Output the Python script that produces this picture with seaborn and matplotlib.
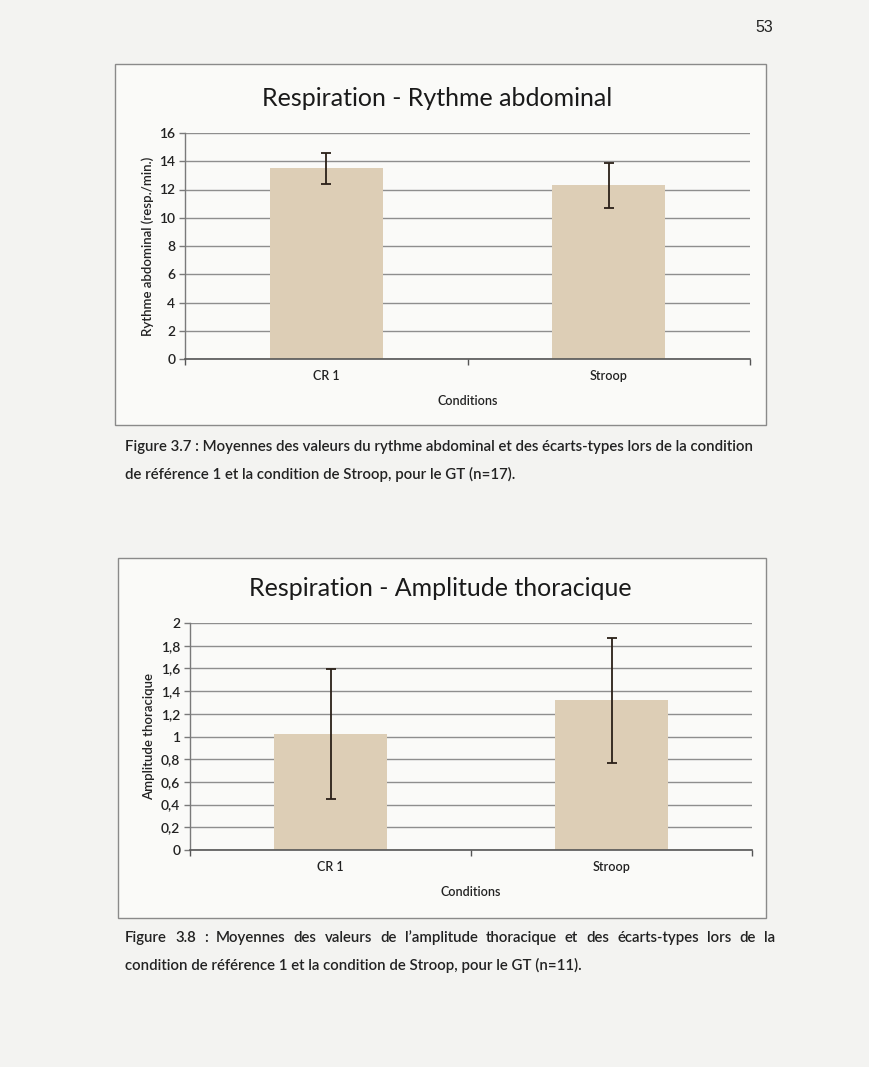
import numpy as np
import pandas as pd
import matplotlib
matplotlib.use("Agg")
import matplotlib.pyplot as plt
import seaborn as sns
from matplotlib.patches import Rectangle
from matplotlib.ticker import FuncFormatter, FixedLocator

# --- Data ---
conditions = ["CR 1", "Stroop"]
rythme_mean = [13.5, 12.3]
rythme_sd = [1.1, 1.6]
ampl_mean = [1.02, 1.32]
ampl_sd = [0.575, 0.55]
rythme_ticks = [0, 2, 4, 6, 8, 10, 12, 14, 16]
ampl_ticks = [0, 0.2, 0.4, 0.6, 0.8, 1.0, 1.2, 1.4, 1.6, 1.8, 2.0]

# --- Styling ---
sns.set_theme(style="white")
plt.rcParams['font.family'] = ['Lato', 'DejaVu Sans']
page_bg = "#F3F3F1"
box_bg = "#FAFAF8"
bar_color = "#DDCEB6"
grid_color = "#8E8E8E"
text_color = "#222222"

W, H = 870, 1067
fig = plt.figure(figsize=(W / 100, H / 100), dpi=100, facecolor=page_bg)


def px_rect(left, top, right, bottom):
    return [left / W, (H - bottom) / H, (right - left) / W, (bottom - top) / H]


def comma_fmt(v, pos):
    return f"{v:g}".replace(".", ",")


def draw_chart(ax, means, sds, ticks, title, ylabel, title_xy):
    df = pd.DataFrame({"Condition": conditions, "Value": means})
    sns.barplot(data=df, x="Condition", y="Value", color=bar_color,
                saturation=1, width=0.4, linewidth=0, ax=ax, zorder=2)
    ax.errorbar(x=[0, 1], y=means, yerr=sds, fmt="none", ecolor="#2a2018",
                elinewidth=1.3, capsize=3.5, capthick=1.3, zorder=3)
    ax.set_facecolor("none")
    ax.set_xlim(-0.5, 1.5)
    ax.set_ylim(ticks[0], ticks[-1])
    ax.yaxis.set_major_locator(FixedLocator(ticks))
    ax.yaxis.set_major_formatter(FuncFormatter(comma_fmt))
    ax.yaxis.grid(True, color=grid_color, linewidth=1.0, zorder=0)
    ax.set_axisbelow(True)
    for s in ["top", "right"]:
        ax.spines[s].set_visible(False)
    ax.spines["left"].set_color("#7a7a7a")
    ax.spines["bottom"].set_color("#555555")
    ax.spines["left"].set_linewidth(1.0)
    ax.spines["bottom"].set_linewidth(1.2)
    ax.tick_params(axis="y", which="major", length=4, width=1, color="#7a7a7a",
                   labelsize=10, labelcolor=text_color, pad=3, left=True)
    ax.tick_params(axis="x", which="major", length=0, labelsize=9,
                   labelcolor=text_color, pad=8)
    ax.set_xticks([-0.5, 0.5, 1.5], minor=True)
    ax.tick_params(axis="x", which="minor", length=4, width=1, color="#555555",
                   bottom=True)
    for lab in ax.get_xticklabels() + ax.get_yticklabels():
        lab.set_fontweight("semibold")
    ax.set_xlabel("Conditions", fontsize=9, color=text_color, labelpad=9,
                  fontweight="semibold")
    ax.set_ylabel(ylabel, fontsize=9.5, color=text_color, labelpad=4,
                  fontweight="semibold")
    fig.text(title_xy[0] / W, 1 - title_xy[1] / H, title, fontsize=18,
             ha="center", va="center", color="#1a1a1a")


def justified(words, x0, x1, y, size, weight):
    renderer = fig.canvas.get_renderer()
    texts = [fig.text(0, 1 - y / H, w, fontsize=size, color=text_color,
                      va="baseline", fontweight=weight) for w in words]
    widths = [t.get_window_extent(renderer).width for t in texts]
    gap = (x1 - x0 - sum(widths)) / (len(words) - 1)
    x = x0
    for t, w in zip(texts, widths):
        t.set_x(x / W)
        x += w + gap


# --- Page number ---
fig.text(755 / W, 1 - 27 / H, "53", fontsize=11.5, ha="left", va="center",
         color=text_color, family=["Liberation Sans", "DejaVu Sans"])

# --- Chart boxes (behind the axes) ---
fig.patches.append(Rectangle((115 / W, 1 - 425 / H), (766 - 115) / W, (425 - 64) / H,
                             transform=fig.transFigure, facecolor=box_bg,
                             edgecolor="#8a8a8a", linewidth=1.0, zorder=-5))
fig.patches.append(Rectangle((118 / W, 1 - 918 / H), (766 - 118) / W, (918 - 558) / H,
                             transform=fig.transFigure, facecolor=box_bg,
                             edgecolor="#8a8a8a", linewidth=1.0, zorder=-5))

# --- Chart 1 ---
ax1 = fig.add_axes(px_rect(185, 133, 750, 359))
draw_chart(ax1, rythme_mean, rythme_sd, rythme_ticks,
           "Respiration - Rythme abdominal", "Rythme abdominal (resp./min.)",
           (437, 99))

# --- Chart 2 ---
ax2 = fig.add_axes(px_rect(190, 623, 752, 850))
draw_chart(ax2, ampl_mean, ampl_sd, ampl_ticks,
           "Respiration - Amplitude thoracique", "Amplitude thoracique",
           (440, 588))

# --- Captions ---
cap_size = 10.8
cap_weight = "semibold"
fig.text(125 / W, 1 - 451 / H,
         "Figure 3.7 : Moyennes des valeurs du rythme abdominal et des écarts-types lors de la condition",
         fontsize=cap_size, color=text_color, va="baseline", fontweight=cap_weight)
fig.text(125 / W, 1 - 479 / H,
         "de référence 1 et la condition de Stroop, pour le GT (n=17).",
         fontsize=cap_size, color=text_color, va="baseline", fontweight=cap_weight)
justified("Figure 3.8 : Moyennes des valeurs de l’amplitude thoracique et des écarts-types lors de la".split(),
          125, 775, 942, cap_size, cap_weight)
fig.text(125 / W, 1 - 970 / H,
         "condition de référence 1 et la condition de Stroop, pour le GT (n=11).",
         fontsize=cap_size, color=text_color, va="baseline", fontweight=cap_weight)

fig.savefig("out.png", dpi=100, facecolor=page_bg)
